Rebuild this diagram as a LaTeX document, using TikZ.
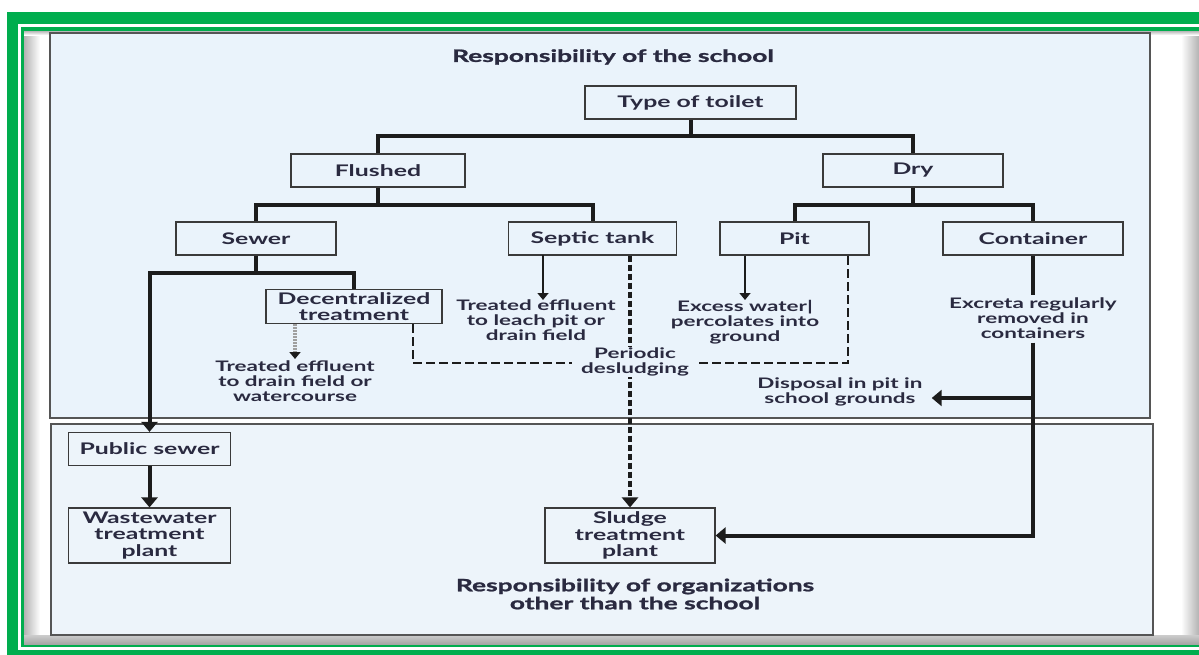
\documentclass[tikz,border=0pt]{standalone}
\usepackage{fontspec}
\setmainfont{Lato}[FakeStretch=1.55]
\newfontfamily\headfont{Lato}[FakeStretch=1.55, BoldFeatures={FakeBold=1.3}]
\usetikzlibrary{arrows.meta}

\definecolor{frameGreen}{HTML}{00AD4E}
\definecolor{panelTop}{HTML}{EAF3FB}
\definecolor{panelBot}{HTML}{EDF4FA}
\definecolor{panelEdge}{HTML}{555555}
\definecolor{boxEdge}{HTML}{3A3A3A}
\definecolor{ink}{HTML}{2A2A40}
\definecolor{lineInk}{HTML}{1C1C1C}

\tikzset{
  box/.style={draw=boxEdge, line width=1.2pt, fill=panelTop, inner sep=0pt,
    align=center, text=ink, font=\fontsize{16}{16.7}\selectfont\bfseries},
  note/.style={align=center, text=ink, inner sep=0pt,
    font=\fontsize{14.5}{15}\selectfont\bfseries},
  heading/.style={align=center, text=ink, inner sep=0pt,
    font=\fontsize{17}{18}\selectfont\headfont\bfseries},
  trunk/.style={draw=lineInk, line width=4pt},
  bigtip/.style={-{Triangle[width=16pt,length=10pt]}},
  smalltip/.style={-{Triangle[width=11pt,length=7pt]}},
  thinarrow/.style={draw=lineInk, line width=1.5pt, smalltip},
  dashbig/.style={draw=lineInk, line width=3.6pt, dash pattern=on 6pt off 3pt},
  dashmid/.style={draw=lineInk, line width=2.6pt, dash pattern=on 9pt off 4pt},
  dotarrow/.style={draw=gray!75, line width=3.5pt, dash pattern=on 2pt off 1pt,
    -{Triangle[width=11pt,length=7pt,color=lineInk]}},
}

\begin{document}
\begin{tikzpicture}[x=1pt, y=-1pt]
\useasboundingbox (0,0) rectangle (1199,654);
\clip (0,0) rectangle (1199,654);

% double green frame with inner shadow
\fill[frameGreen] (7,12) rectangle (1230,661);
\fill[white] (18,24) rectangle (1219,650);
\fill[frameGreen] (21,27) rectangle (1216,647);
\fill[white] (24,31) rectangle (1212,644);
\shade[left color=gray!60, right color=white] (24,31) rectangle (40,644);
\shade[left color=white, right color=gray!60] (1181,31) rectangle (1199,644);
\shade[top color=gray!55, bottom color=white] (24,31) rectangle (1212,35);
\shade[top color=gray!40, bottom color=gray!70] (24,635) rectangle (1212,644);

% the two responsibility panels
\filldraw[fill=panelTop, draw=panelEdge, line width=1.2pt] (50,33) rectangle (1150,418);
\filldraw[fill=panelBot, draw=panelEdge, line width=1.2pt] (51,424) rectangle (1153,635);

\node[heading] (tophead) at (613,57) {Responsibility of the school};
\node[heading] (bothead) at (635,594) {Responsibility of organizations\\other than the school};

% boxes
\node[box, minimum width=211pt, minimum height=33pt] (type) at (690.5,102.5) {Type of toilet};
\node[box, minimum width=174pt, minimum height=33pt] (flushed) at (378,170.5) {Flushed};
\node[box, minimum width=180pt, minimum height=33pt] (dry) at (913,170.5) {Dry};
\node[box, minimum width=160pt, minimum height=33pt] (sewer) at (256,238.5) {Sewer};
\node[box, minimum width=168pt, minimum height=33pt] (septic) at (592.5,238.5) {Septic tank};
\node[box, minimum width=149pt, minimum height=33pt] (pit) at (794.5,238.5) {Pit};
\node[box, minimum width=180pt, minimum height=33pt] (container) at (1033,238.5) {Container};
\node[box, minimum width=176pt, minimum height=34pt] (decen) at (354,306.5) {Decentralized\\treatment};
\node[box, fill=panelBot, minimum width=162pt, minimum height=33pt] (pubsew) at (149.5,449) {Public sewer};
\node[box, fill=panelBot, minimum width=162pt, minimum height=55pt] (wwtp) at (149.5,535.5) {Wastewater\\treatment\\plant};
\node[box, fill=panelBot, minimum width=170pt, minimum height=55pt] (sludge) at (630,535.5) {Sludge\\treatment\\plant};

% free notes
\node[note, anchor=north] (eff1) at (295,361) {Treated effluent\\to drain field or\\watercourse};
\node[note, anchor=north] (eff2) at (536,300) {Treated effluent\\to leach pit or\\drain field};
\node[note, anchor=north] (excess) at (745,300) {Excess water|\\percolates into\\ground};
\node[note] (excr) at (1033,318) {Excreta regularly\\removed in\\containers};
\node[note] (disp) at (840,391.5) {Disposal in pit in\\school grounds};

% tree connectors
\coordinate (jT) at (690.5,136);
\coordinate (jF) at (378,205);
\coordinate (jD) at (913,205);
\coordinate (jS) at (256,273);
\draw[trunk] (type.south) -- (jT);
\draw[trunk] (flushed.north) |- (jT) -| (dry.north);
\draw[trunk] (flushed.south) -- (jF);
\draw[trunk] (sewer.north) |- (jF) -| (septic.north);
\draw[trunk] (dry.south) -- (jD);
\draw[trunk] (pit.north) |- (jD) -| (container.north);
\draw[trunk, bigtip] (sewer.south) -- (jS) -| (pubsew.north);
\draw[trunk] (jS) -| (decen.north);
\draw[trunk, bigtip] (pubsew.south) -- (wwtp.north);

% effluent arrows
\coordinate (sa) at (543,255);
\draw[dotarrow] (decen.south -| eff1.north) -- ([yshift=2pt]eff1.north);
\draw[thinarrow] (sa) -- (sa |- eff2.north);
\draw[thinarrow] (pit.south -| excess.north) -- (excess.north);

% periodic desludging (dashed)
\coordinate (dl) at (413,363);
\coordinate (pr) at (848,363);
\draw[dashmid] (decen.south -| dl) -- (dl) -- (pr) -- (pit.south -| pr);
\draw[dashbig, bigtip] (septic.south -| sludge.north) -- (sludge.north);
\node[note, fill=panelTop, inner xsep=9pt, inner ysep=1pt] (periodic) at (635,362) {Periodic\\desludging};

% container removal route
\coordinate (cb) at (1033,398);
\draw[trunk] (container.south) -- ([yshift=2pt]excr.north);
\draw[trunk, bigtip] ([yshift=-4pt]excr.south) |- (sludge.east);
\draw[trunk, bigtip, shorten >=9pt] (cb) -- (disp.east |- cb);
\end{tikzpicture}
\end{document}
